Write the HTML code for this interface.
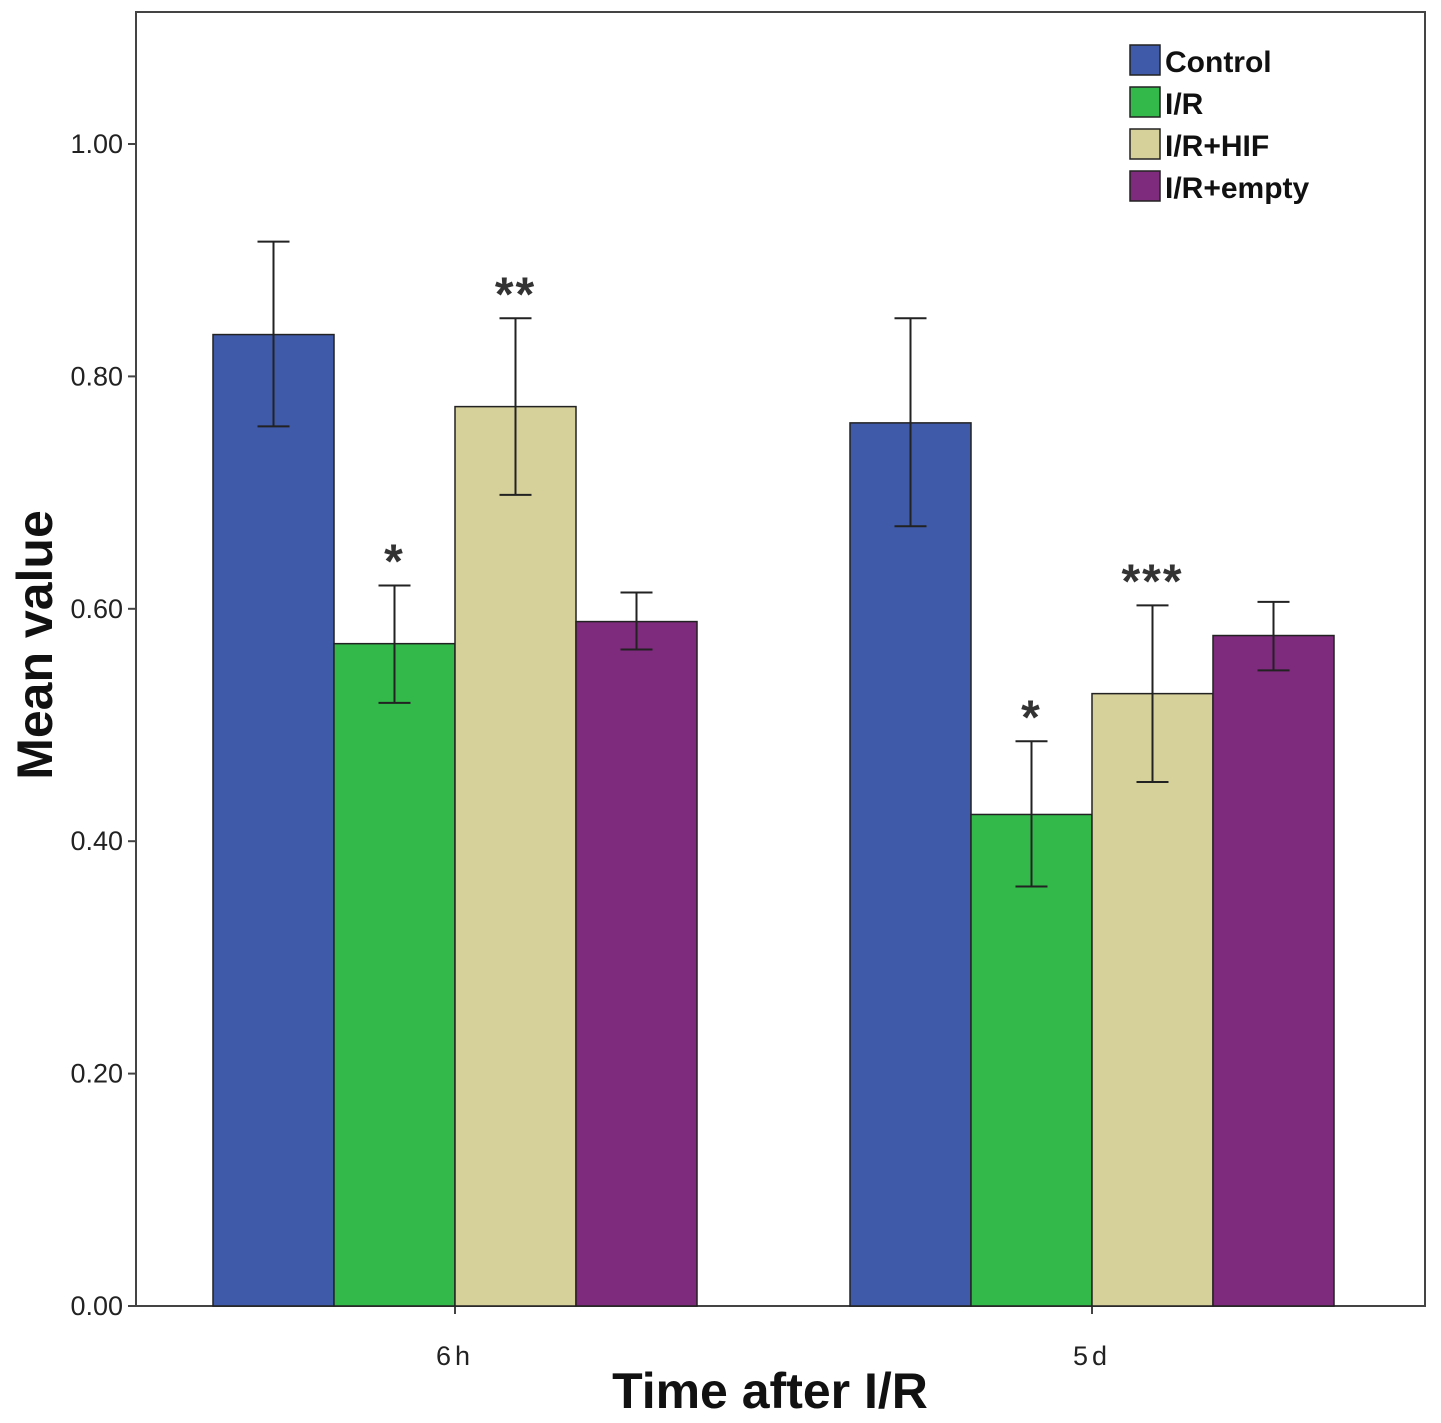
<!DOCTYPE html>
<html><head><meta charset="utf-8"><style>
body{margin:0;background:#fff}
svg{display:block;font-family:"Liberation Sans",Arial,sans-serif}
</style></head><body>
<svg id="chart" width="1441" height="1423" viewBox="0 0 1441 1423">
<rect x="136" y="12" width="1289" height="1294" fill="#fff" stroke="#444" stroke-width="2"/>
<g id="yaxis"></g><g id="bars"></g><g id="errs"></g><g id="stars"></g>
<text x="770" y="1408" text-anchor="middle" font-size="50" font-weight="bold" fill="#111">Time after I/R</text>
<text transform="translate(52,645) rotate(-90)" text-anchor="middle" font-size="50" font-weight="bold" fill="#111">Mean value</text>
<g id="legend"></g>
</svg>
<script>
const categories=["6h","5d"];
const seriesNames=["Control","I/R","I/R+HIF","I/R+empty"];
const seriesColors=["#3f5aa9","#33b84a","#d6d09b","#7e2a7d"];
const means=[[0.836,0.570,0.774,0.589],[0.760,0.423,0.527,0.577]];
const upper=[[0.916,0.620,0.850,0.614],[0.850,0.486,0.603,0.606]];
const lower=[[0.757,0.519,0.698,0.565],[0.671,0.361,0.451,0.547]];
const marks=[["","*","**",""],["","*","***",""]];
const yTicks=[0,0.2,0.4,0.6,0.8,1.0];
const yTickLabels=["0.00","0.20","0.40","0.60","0.80","1.00"];
const NS="http://www.w3.org/2000/svg";
const y=v=>1306-v*1162;
const groupCenter=i=>455+i*637;
const barW=121;
function mk(tag,attrs,parent,text){const e=document.createElementNS(NS,tag);for(const k in attrs)e.setAttribute(k,attrs[k]);if(text!==undefined)e.textContent=text;document.getElementById(parent).appendChild(e);return e;}
yTicks.forEach((t,i)=>{
 const l=mk("line",{x1:128,x2:136,y1:y(t),y2:y(t),stroke:"#444","stroke-width":2},"yaxis");
 
 
 const tx=mk("text",{x:123,y:y(t)+9,"text-anchor":"end","font-size":27,fill:"#222"},"yaxis",yTickLabels[i]);
 
 
});
categories.forEach((c,ci)=>{
 const cx=groupCenter(ci);
 const tl=mk("line",{x1:cx,x2:cx,y1:1306,y2:1314,stroke:"#444","stroke-width":2},"yaxis");
 
 
 const lab=mk("text",{x:cx,y:1365,"text-anchor":"middle","font-size":27,fill:"#222","letter-spacing":"4"},"yaxis",c);
 
 
 means[ci].forEach((v,si)=>{
  const x0=cx-2*barW+si*barW;
  const r=mk("rect",{x:x0,y:y(v),width:barW,height:1306-y(v),fill:seriesColors[si],stroke:"#222","stroke-width":1.5},"bars");
  
  
  const mx=x0+barW/2;
  const g=mk("g",{stroke:"#222","stroke-width":2},"errs");
  
  
  const a=document.createElementNS(NS,"path");
  a.setAttribute("d",`M${mx},${y(upper[ci][si])}V${y(lower[ci][si])}M${mx-16},${y(upper[ci][si])}H${mx+16}M${mx-16},${y(lower[ci][si])}H${mx+16}`);
  g.appendChild(a);
  if(marks[ci][si]){
   const s=mk("text",{x:mx,y:y(upper[ci][si])-8,"text-anchor":"middle","font-size":48,"font-weight":"bold",fill:"#333","letter-spacing":"2"},"stars",marks[ci][si]);
   
   
  }
 });
});
seriesNames.forEach((n,i)=>{
 const yy=45+i*42;
 const sw=mk("rect",{x:1130,y:yy,width:30,height:30,fill:seriesColors[i],stroke:"#222","stroke-width":1.5},"legend");
 
 
 const t=mk("text",{x:1165,y:yy+27,"font-size":30,"font-weight":"bold",fill:"#111"},"legend",n);
 
 
});
</script>
</body></html>
